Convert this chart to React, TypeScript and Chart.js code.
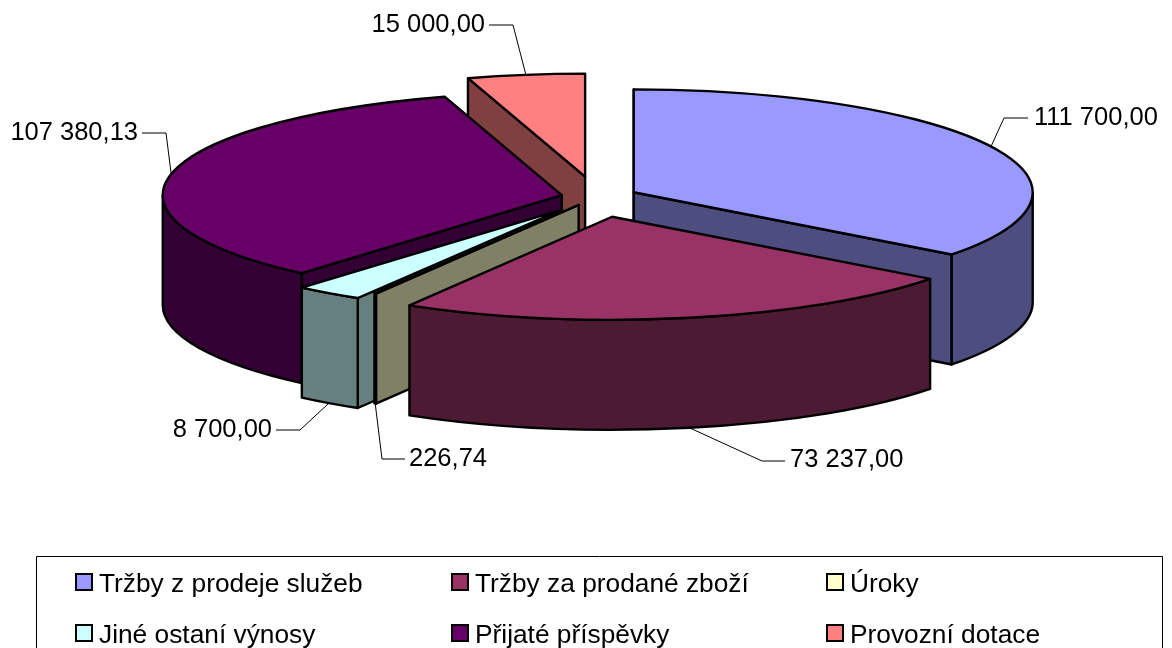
import React, { useEffect, useRef } from "react";
import { Chart, registerables } from "chart.js";

Chart.register(...registerables);

const categories = ["Tržby z prodeje služeb", "Tržby za prodané zboží", "Úroky", "Jiné ostaní výnosy", "Přijaté příspěvky", "Provozní dotace"];
const values = [111700, 73237, 226.74, 8700, 107380.13, 15000];
const valueLabels = ["111 700,00", "73 237,00", "226,74", "8 700,00", "107 380,13", "15 000,00"];
const topColors = ["#9999FF", "#993366", "#FFFFCC", "#CCFFFF", "#660066", "#FF8080"];
const sideColors = ["#4D4D80", "#4D1A33", "#808066", "#668080", "#330033", "#804040"];
const explosion = [41, 78, 36, 60, 36, 80];

const LABEL_FONT = "25.5px 'Liberation Sans', Arial, sans-serif";
const LEGEND_FONT = "26.3px 'Liberation Sans', Arial, sans-serif";
const TILT = 0.258;
const DEPTH = 110;
const PAINT_ORDER = [5, 0, 4, 3, 2, 1];

const leaderLayout = [
  { elbow: [1004, 118], end: [1028, 118], text: [1034, 118], align: "left" },
  { elbow: [762, 461], end: [785, 461], text: [790, 460], align: "left" },
  { elbow: [382, 459], end: [405, 459], text: [409, 459], align: "left" },
  { elbow: [300, 430], end: [276, 430], text: [272, 430], align: "right" },
  { elbow: [166, 133], end: [142, 133], text: [138, 133], align: "right" },
  { elbow: [513, 25], end: [489, 25], text: [485, 25], align: "right" },
];

const legendLayout = {
  box: { left: 36, top: 556, right: 1162 },
  columns: [76, 452, 827],
  rows: [582, 633],
  swatch: 16,
  textGap: 7,
};

function sliceGeom(el: any) {
  const mid = (el.startAngle + el.endAngle) / 2;
  const e = el.options.offset || 0;
  const R = el.outerRadius;
  const cx = el.x + e * Math.cos(mid);
  const cy = el.y + e * Math.sin(mid) * TILT;
  return { mid, R, cx, cy, a0: el.startAngle, a1: el.endAngle };
}

const pie3d = {
  id: "pie3d",
  beforeDatasetDraw(chart: any) {
    const ctx: CanvasRenderingContext2D = chart.ctx;
    const arcs = chart.getDatasetMeta(0).data;
    ctx.save();
    ctx.lineJoin = "round";
    ctx.strokeStyle = "#000";

    // leader lines go under the slices' outlines
    arcs.forEach((el: any, i: number) => {
      const { mid, R, cx, cy } = sliceGeom(el);
      const front = Math.sin(mid) > 0;
      const ax = cx + R * Math.cos(mid);
      const ay = cy + R * TILT * Math.sin(mid) + (front ? DEPTH : 0);
      const l = leaderLayout[i];
      ctx.lineWidth = 1;
      ctx.beginPath();
      ctx.moveTo(ax, ay);
      ctx.lineTo(l.elbow[0], l.elbow[1]);
      ctx.lineTo(l.end[0], l.end[1]);
      ctx.stroke();
      ctx.fillStyle = "#000";
      ctx.font = LABEL_FONT;
      ctx.textAlign = l.align as CanvasTextAlign;
      ctx.textBaseline = "middle";
      ctx.fillText(valueLabels[i], l.text[0], l.text[1]);
    });

    ctx.lineWidth = 2.4;
    PAINT_ORDER.forEach((i) => {
      const el = arcs[i];
      const { R, cx, cy, a0, a1 } = sliceGeom(el);
      const ry = R * TILT;
      const radial = (a: number) => {
        const px = cx + R * Math.cos(a);
        const py = cy + ry * Math.sin(a);
        ctx.beginPath();
        ctx.moveTo(cx, cy);
        ctx.lineTo(px, py);
        ctx.lineTo(px, py + DEPTH);
        ctx.lineTo(cx, cy + DEPTH);
        ctx.closePath();
        ctx.fillStyle = sideColors[i];
        ctx.fill();
        ctx.stroke();
      };
      if (Math.cos(a0) < 0.001) radial(a0);
      if (Math.cos(a1) > 0.001) radial(a1);
      // outer wall: the part of the rim that faces the viewer
      const w0 = Math.max(a0, 0);
      const w1 = Math.min(a1, Math.PI);
      if (w1 > w0) {
        ctx.beginPath();
        ctx.ellipse(cx, cy, R, ry, 0, w0, w1);
        ctx.ellipse(cx, cy + DEPTH, R, ry, 0, w1, w0, true);
        ctx.closePath();
        ctx.fillStyle = sideColors[i];
        ctx.fill();
        ctx.stroke();
      }
      // top face
      ctx.beginPath();
      ctx.moveTo(cx, cy);
      ctx.ellipse(cx, cy, R, ry, 0, a0, a1);
      ctx.closePath();
      ctx.fillStyle = topColors[i];
      ctx.fill();
      ctx.stroke();
    });
    ctx.restore();
    return false;
  },
  afterDraw(chart: any) {
    const ctx: CanvasRenderingContext2D = chart.ctx;
    const { box, columns, rows, swatch, textGap } = legendLayout;
    ctx.save();
    ctx.strokeStyle = "#000";
    ctx.lineWidth = 1;
    ctx.beginPath();
    ctx.moveTo(box.left + 0.5, chart.height + 2);
    ctx.lineTo(box.left + 0.5, box.top + 0.5);
    ctx.lineTo(box.right + 0.5, box.top + 0.5);
    ctx.lineTo(box.right + 0.5, chart.height + 2);
    ctx.stroke();
    ctx.font = LEGEND_FONT;
    ctx.textAlign = "left";
    ctx.textBaseline = "middle";
    chart.data.labels.forEach((label: string, i: number) => {
      const x = columns[i % 3];
      const y = rows[Math.floor(i / 3)];
      ctx.fillStyle = topColors[i];
      ctx.lineWidth = 2;
      ctx.fillRect(x, y - swatch / 2, swatch, swatch);
      ctx.strokeRect(x, y - swatch / 2, swatch, swatch);
      ctx.fillStyle = "#000";
      ctx.fillText(label, x + swatch + textGap, y + 3);
    });
    ctx.restore();
  },
};

export default function App() {
  const ref = useRef<HTMLCanvasElement>(null);
  useEffect(() => {
    const chart = new Chart(ref.current!, {
      type: "pie",
      data: {
        labels: categories,
        datasets: [{ data: values, backgroundColor: topColors, offset: explosion, borderColor: "#000", borderWidth: 2 }],
      },
      options: {
        responsive: false,
        animation: false,
        radius: 399,
        layout: { padding: { left: 22, top: 0, right: 0, bottom: 254 } },
        plugins: { legend: { display: false }, tooltip: { enabled: false } },
      },
      plugins: [pie3d],
    } as any);
    return () => chart.destroy();
  }, []);
  return (
    <canvas
      ref={ref}
      width={1172}
      height={648}
      style={{ position: "absolute", left: 0, top: 0, display: "block", width: 1172, height: 648 }}
    />
  );
}
